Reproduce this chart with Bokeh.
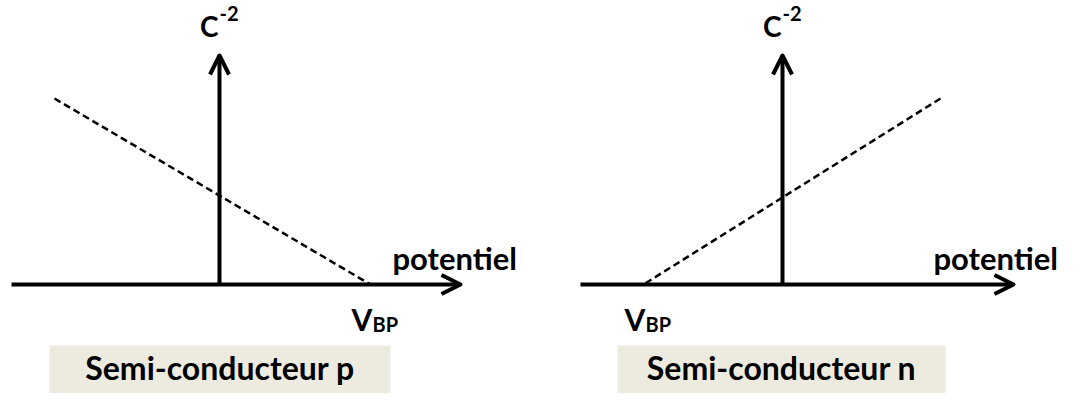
from bokeh.plotting import figure
from bokeh.layouts import row
from bokeh.models import Range1d, Arrow, OpenHead
from bokeh.core.properties import value
from bokeh.embed import file_html
from bokeh.resources import INLINE

# ---- data (schematic units: potential on x, C^-2 on y, origin at axes crossing) ----
panel_titles = ["Semi-conducteur p", "Semi-conducteur n"]
v_bp = [151, -139]                 # flat-band potential (x-intercept of Mott-Schottky line)
line_far_x = [-165, 158]           # far end of dashed Mott-Schottky line
line_far_y = [186, 186]
x_axis_start = [-208, -202]
x_axis_end = [241, 231]
y_axis_top = [229, 229]
y_label_main = "C"
y_label_sup = "-2"
x_label = "potentiel"
vbp_main = "V"
vbp_sub = "BP"

FONT = value("Lato")
widths = [533, 542]
x_ranges = [(-219, 314), (-249, 293)]
x_label_pos = [173, 151]
box_lr = [(-170, 171), (-165, 163)]
TY = 10  # text baseline correction

figs = []
for i in range(2):
    p = figure(width=widths[i], height=393, output_backend="svg", toolbar_location=None,
               x_range=Range1d(*x_ranges[i]), y_range=Range1d(-109, 284),
               x_axis_type=None, y_axis_type=None, min_border=0,
               outline_line_color=None, background_fill_color="white")
    p.xgrid.visible = False
    p.ygrid.visible = False

    # axes with arrows
    p.add_layout(Arrow(end=OpenHead(size=19, line_width=4, line_color="black", line_join="round"),
                       x_start=x_axis_start[i], y_start=0, x_end=x_axis_end[i], y_end=0,
                       line_width=4, line_color="black"))
    p.add_layout(Arrow(end=OpenHead(size=19, line_width=4, line_color="black", line_join="round"),
                       x_start=0, y_start=0, x_end=0, y_end=y_axis_top[i],
                       line_width=4, line_color="black"))

    # dashed Mott-Schottky line
    p.line(x=[line_far_x[i], v_bp[i]], y=[line_far_y[i], 0], line_color="black",
           line_width=2.5, line_dash="7 4")

    # y label C^-2
    p.text(x=[0], y=[249 + TY], text=[y_label_main], text_font=FONT, text_font_style="bold",
           text_font_size="28px", text_align="right", text_baseline="alphabetic", x_offset=-1)
    p.text(x=[0], y=[261 + TY], text=[y_label_sup], text_font=FONT, text_font_style="bold",
           text_font_size="20px", text_align="left", text_baseline="alphabetic", x_offset=0)

    # x label
    p.text(x=[x_label_pos[i]], y=[17 + TY], text=[x_label], text_font=FONT, text_font_style="bold",
           text_font_size="31px", text_align="left", text_baseline="alphabetic")

    # V_BP label
    p.text(x=[v_bp[i]], y=[-44 + TY], text=[vbp_main], text_font=FONT, text_font_style="bold",
           text_font_size="30px", text_align="left", text_baseline="alphabetic", x_offset=-19)
    p.text(x=[v_bp[i]], y=[-49 + TY], text=[vbp_sub], text_font=FONT, text_font_style="bold",
           text_font_size="20px", text_align="left", text_baseline="alphabetic", x_offset=2)

    # caption box
    l, r = box_lr[i]
    p.quad(left=[l], right=[r], top=[-61], bottom=[-109], fill_color="#EDEAE0", line_color=None)
    p.text(x=[(l + r) / 2], y=[-93 + TY], text=[panel_titles[i]], text_font=FONT, text_font_style="bold",
           text_font_size="32px", text_align="center", text_baseline="alphabetic")
    figs.append(p)

layout = row(*figs, spacing=0)
open("out.html", "w").write(file_html(layout, INLINE))
